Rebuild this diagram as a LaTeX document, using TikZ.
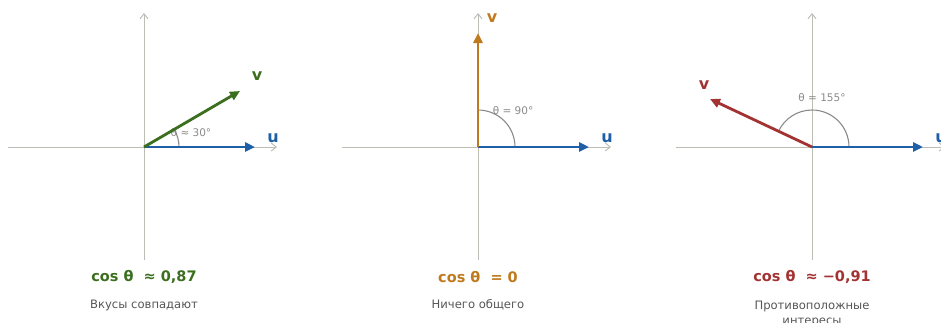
\documentclass[tikz,border=0pt]{standalone}
\usepackage{fontspec}
\setmainfont{DejaVu Sans}
\usetikzlibrary{arrows.meta}
\definecolor{vecblue}{HTML}{1F5FA8}
\definecolor{vecgreen}{HTML}{3B6E1E}
\definecolor{vecorange}{HTML}{C07A1E}
\definecolor{vecred}{HTML}{A33232}
\definecolor{axisgray}{HTML}{BDBDB5}
\definecolor{arcgray}{HTML}{8A8A8A}
\definecolor{capgray}{HTML}{555555}

\begin{document}
\begin{tikzpicture}[x=1pt, y=-1pt,
  axisline/.style={axisgray, line width=1pt, -{Straight Barb[length=5pt, width=8pt]}},
  vecline/.style={line width=2.8pt, -{Triangle[length=10pt, width=9pt]}},
  anglearc/.style={arcgray, line width=1.1pt},
  vlabel/.style={font=\bfseries\fontsize{16}{18}\selectfont},
  anglelabel/.style={arcgray, font=\fontsize{10.5}{12}\selectfont},
  cosvalue/.style={font=\bfseries\fontsize{14.5}{17}\selectfont},
  caption/.style={capgray, align=center, font=\fontsize{11.6}{15}\selectfont}]
  \useasboundingbox (0,0) rectangle (941,322);

  % ---- Panel 1: theta about 30 degrees ----
  \begin{scope}[shift={(144,147)}]
    \draw[axisline] (-136,0) -- (133,0);
    \draw[axisline] (0,113) -- (0,-134);
    \coordinate (oA) at (0,0);
    \coordinate (uA) at (111,0);
    \coordinate (vA) at (96,-56);
    \draw[anglearc] (35,0) arc[start angle=0, end angle=-30, radius=35];
    \node[anglelabel] (tA) at (47,-14) {θ ≈ 30°};
    \draw[vecline, vecblue] (oA) -- (uA);
    \draw[vecline, vecgreen] (oA) -- (vA);
    \node[vlabel, vecblue] (luA) at (129,-9) {u};
    \node[vlabel, vecgreen] (lvA) at (113,-71) {v};
    \node[cosvalue, vecgreen] (cA) at (0,130) {cos θ~ ≈ 0,87};
    \node[caption] (kA) at (0,158) {Вкусы совпадают};
  \end{scope}

  % ---- Panel 2: theta = 90 degrees ----
  \begin{scope}[shift={(478,147)}]
    \draw[axisline] (-136,0) -- (133,0);
    \draw[axisline] (0,113) -- (0,-134);
    \coordinate (oB) at (0,0);
    \coordinate (uB) at (111,0);
    \coordinate (vB) at (0,-114);
    \draw[anglearc] (37,0) arc[start angle=0, end angle=-90, radius=37];
    \node[anglelabel] (tB) at (35,-36) {θ = 90°};
    \draw[vecline, vecblue] (oB) -- (uB);
    \draw[vecline, vecorange] (oB) -- (vB);
    \node[vlabel, vecblue] (luB) at (129,-9) {u};
    \node[vlabel, vecorange] (lvB) at (14,-129) {v};
    \node[cosvalue, vecorange] (cB) at (0,130) {cos θ~ = 0};
    \node[caption] (kB) at (0,158) {Ничего общего};
  \end{scope}

  % ---- Panel 3: theta = 155 degrees ----
  \begin{scope}[shift={(812,147)}]
    \draw[axisline] (-136,0) -- (133,0);
    \draw[axisline] (0,113) -- (0,-134);
    \coordinate (oC) at (0,0);
    \coordinate (uC) at (111,0);
    \coordinate (vC) at (-102,-48);
    \draw[anglearc] (37,0) arc[start angle=0, end angle=-155, radius=37];
    \node[anglelabel] (tC) at (10,-49) {θ = 155°};
    \draw[vecline, vecblue] (oC) -- (uC);
    \draw[vecline, vecred] (oC) -- (vC);
    \node[vlabel, vecblue] (luC) at (129,-9) {u};
    \node[vlabel, vecred] (lvC) at (-108,-62) {v};
    \node[cosvalue, vecred] (cC) at (0,130) {cos θ~ ≈ −0,91};
    \node[caption, anchor=north] (kC) at (0,151) {Противоположные\\интересы};
  \end{scope}
\end{tikzpicture}
\end{document}
